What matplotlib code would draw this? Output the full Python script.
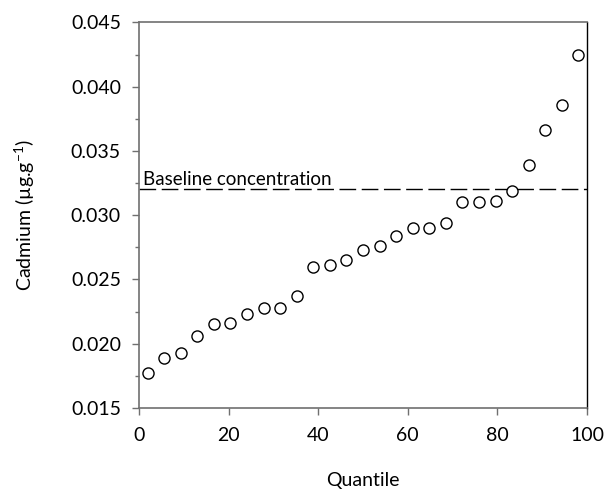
import matplotlib
matplotlib.use("Agg")
import matplotlib.pyplot as plt
from matplotlib.ticker import MultipleLocator

plt.rcParams['font.family'] = ['Lato', 'DejaVu Sans']
plt.rcParams['mathtext.fontset'] = 'custom'
plt.rcParams['mathtext.rm'] = 'Lato'
plt.rcParams['mathtext.it'] = 'Lato:italic'

# quantile positions (%) and cadmium values
quantile = [1.9, 5.6, 9.3, 13.0, 16.7, 20.4, 24.1, 27.8, 31.5, 35.2,
            38.9, 42.6, 46.3, 50.0, 53.7, 57.4, 61.1, 64.8, 68.5, 72.2,
            75.9, 79.6, 83.3, 87.0, 90.7, 94.4, 98.1]
cadmium = [0.0177, 0.0189, 0.0193, 0.0206, 0.0215, 0.0216, 0.0223, 0.0228,
           0.0228, 0.0237, 0.0260, 0.0261, 0.0265, 0.0273, 0.0276, 0.0284,
           0.0290, 0.0290, 0.0294, 0.0310, 0.0310, 0.0311, 0.0319, 0.0339,
           0.0366, 0.0386, 0.0425]
baseline = 0.032
baseline_label = "Baseline concentration"

fig = plt.figure(figsize=(6.07, 4.97), dpi=100)
ax = fig.add_axes([0.229, 0.179, 0.738, 0.776])

ax.plot(quantile, cadmium, 'o', mfc='white', mec='black', ms=8, mew=1.0,
        linestyle='none', zorder=3)
ax.axhline(baseline, color='black', lw=1.0, dashes=(12, 4), zorder=2)
ax.text(1.0, baseline + 0.0001, baseline_label, fontsize=13.5, va='bottom',
        ha='left')

ax.set_xlim(0, 100)
ax.set_ylim(0.015, 0.045)
ax.xaxis.set_major_locator(MultipleLocator(20))
ax.yaxis.set_major_locator(MultipleLocator(0.005))
ax.yaxis.set_minor_locator(MultipleLocator(0.0025))
ax.yaxis.set_major_formatter(plt.FormatStrFormatter('%.3f'))

ax.tick_params(axis='both', which='major', direction='out', length=5,
               width=1, color='#707070', labelsize=14, pad=8)
ax.tick_params(axis='y', which='minor', direction='out', length=3,
               width=1, color='#707070')
ax.tick_params(axis='x', pad=9)

for side in ['left', 'bottom', 'top']:
    ax.spines[side].set_color('#707070')
    ax.spines[side].set_linewidth(1.2)
ax.spines['right'].set_color('black')
ax.spines['right'].set_linewidth(1.0)

ax.set_xlabel('Quantile', fontsize=14, labelpad=20)
ax.set_ylabel(r'Cadmium (µg.g$^{-1}$)', fontsize=14, labelpad=24)

fig.savefig('out.png', dpi=100)
